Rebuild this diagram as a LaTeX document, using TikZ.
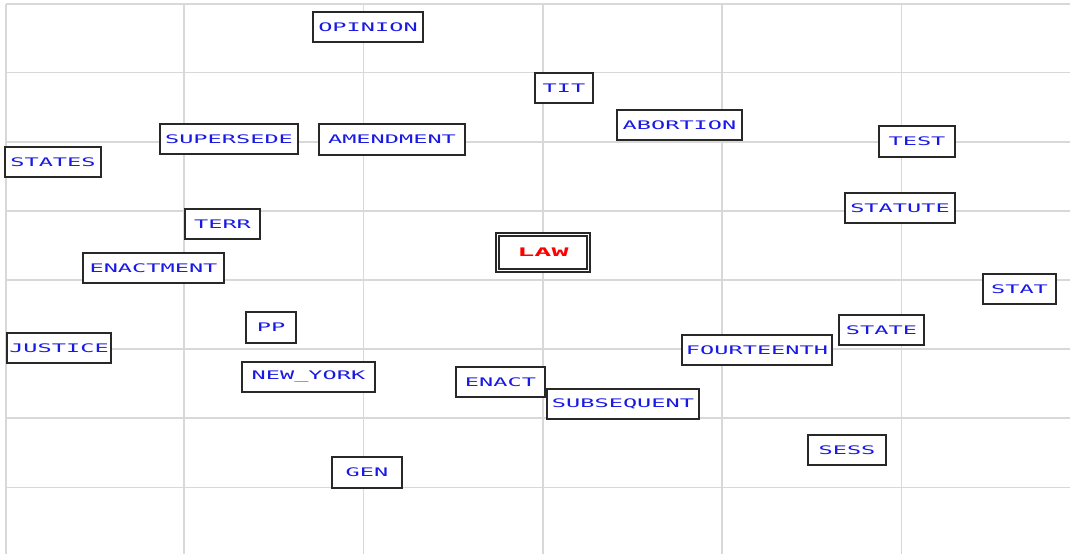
\documentclass[tikz,border=0pt]{standalone}
\usepackage{fontspec}
\newfontfamily\lblfont[FakeStretch=2.0]{DejaVu Sans Mono}
\newfontfamily\lawfont[FakeStretch=2.4]{DejaVu Sans Mono}
\definecolor{gridgray}{RGB}{216,216,216}
\definecolor{lblblue}{RGB}{25,25,230}
\definecolor{boxline}{RGB}{40,40,40}
\tikzset{
  gridline/.style={draw=gridgray, line width=1.8pt},
  word/.style={draw=boxline, fill=white, line width=1.9pt, rectangle, inner sep=0pt,
    text=lblblue, font=\lblfont\fontsize{11.8}{14}\selectfont},
  core/.style={draw=boxline, fill=white, line width=1.4pt, double=white, double distance=1.6pt,
    rectangle, inner sep=0pt, text=red, font=\lawfont\bfseries\fontsize{11.8}{14}\selectfont},
}
\begin{document}
\begin{tikzpicture}[x=1pt,y=-1pt]
\useasboundingbox (0,0) rectangle (1070,554);
% grid
\foreach \gx in {6,184,363.5,543,722,901.5} \draw[gridline] (\gx,4) -- (\gx,554);
\foreach \gy in {4,72.5,142,211,280,349,418,487.5} \draw[gridline] (6,\gy) -- (1070,\gy);
% words
\node[word, minimum width=110.5pt, minimum height=30.5pt] (opinion) at (368,27) {OPINION};
\node[word, minimum width=58.5pt, minimum height=30.5pt] (tit) at (564,88) {TIT};
\node[word, minimum width=125.5pt, minimum height=30.5pt] (abortion) at (679.5,125) {ABORTION};
\node[word, minimum width=138.5pt, minimum height=30.5pt] (supersede) at (229,139) {SUPERSEDE};
\node[word, minimum width=146.5pt, minimum height=31.5pt] (amendment) at (392,139.5) {AMENDMENT};
\node[word, minimum width=76.5pt, minimum height=31.5pt] (test) at (917,141.5) {TEST};
\node[word, minimum width=96.5pt, minimum height=30.5pt] (states) at (53,162) {STATES};
\node[word, minimum width=110.5pt, minimum height=30.5pt] (statute) at (900,208) {STATUTE};
\node[word, minimum width=75.5pt, minimum height=30.5pt] (terr) at (222.5,224) {TERR};
\node[core, minimum width=91pt, minimum height=36pt] (law) at (543,252.5) {LAW};
\node[word, minimum width=141.5pt, minimum height=30.5pt] (enactment) at (153.5,268) {ENACTMENT};
\node[word, minimum width=73.5pt, minimum height=30.5pt] (stat) at (1019.5,289) {STAT};
\node[word, minimum width=50.5pt, minimum height=31.5pt] (pp) at (271,327.5) {PP};
\node[word, minimum width=85.5pt, minimum height=30.5pt] (state) at (881.5,330) {STATE};
\node[word, minimum width=104.5pt, minimum height=30.5pt] (justice) at (59,348) {JUSTICE};
\node[word, minimum width=150.5pt, minimum height=30.5pt] (fourteenth) at (757,350) {FOURTEENTH};
\node[word, minimum width=133.5pt, minimum height=30.5pt] (newyork) at (308.5,377) {NEW\_YORK};
\node[word, minimum width=89.5pt, minimum height=30.5pt] (enact) at (500.5,382) {ENACT};
\node[word, minimum width=152.5pt, minimum height=30.5pt] (subsequent) at (623,404) {SUBSEQUENT};
\node[word, minimum width=78.5pt, minimum height=30.5pt] (sess) at (847,450) {SESS};
\node[word, minimum width=70.5pt, minimum height=31.5pt] (gen) at (367,472.5) {GEN};
\end{tikzpicture}
\end{document}
